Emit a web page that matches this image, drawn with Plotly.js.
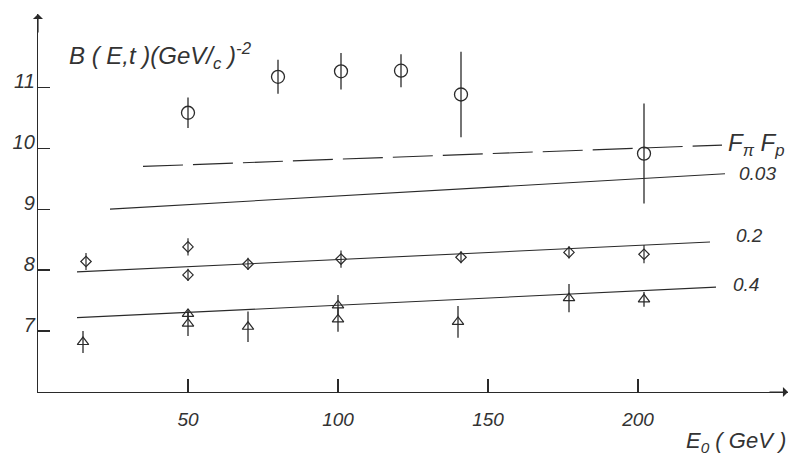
<!DOCTYPE html>
<html><head><meta charset="utf-8">
<script src="https://cdn.plot.ly/plotly-3.0.1.min.js"></script>
<style>html,body{margin:0;padding:0;background:#fff}</style>
</head><body><div id="chart" style="width:792px;height:468px"></div>
<script>
// open circles
const circlesX = [50, 80, 101, 121, 141, 202];
const circlesY = [10.58, 11.17, 11.26, 11.27, 10.88, 9.91];
const circlesErr = [0.25, 0.28, 0.30, 0.27, 0.70, 0.82];
// small diamonds
const diamondX = [16, 50, 50, 70, 101, 141, 177, 202];
const diamondY = [8.14, 8.38, 7.92, 8.10, 8.18, 8.21, 8.29, 8.26];
const diamondErr = [0.14, 0.14, 0.10, 0.10, 0.14, 0.10, 0.10, 0.15];
// arrow-like triangles
const triX = [15, 50, 50, 70, 100, 100, 140, 177, 202];
const triY = [6.82, 7.28, 7.12, 7.07, 7.42, 7.19, 7.15, 7.54, 7.52];
const triErr = [0.18, 0.08, 0.20, 0.25, 0.17, 0.20, 0.26, 0.23, 0.12];
// curves (Fπ/Fp labels)
const dashX = [35, 228], dashY = [9.70, 10.05];
const line003X = [24, 229], line003Y = [9.00, 9.58];
const line02X = [13, 224], line02Y = [7.97, 8.46];
const line04X = [13, 226], line04Y = [7.22, 7.72];
const xTicks = [50, 100, 150, 200];
const yTicks = [7, 8, 9, 10, 11];
const curveLabels = ['0.03', '0.2', '0.4'];

const ink = '#2a2a2a';
const fnt = {family: 'Liberation Sans', style: 'italic', color: '#333'};
const lineStyle = {color: ink, width: 1.1};

const traces = [
  {x: dashX, y: dashY, mode: 'lines', line: {color: ink, width: 1.1, dash: '40px,10px'}},
  {x: line003X, y: line003Y, mode: 'lines', line: lineStyle},
  {x: line02X, y: line02Y, mode: 'lines', line: lineStyle},
  {x: line04X, y: line04Y, mode: 'lines', line: lineStyle},
  {x: circlesX, y: circlesY, mode: 'markers',
   marker: {symbol: 'circle-open', size: 13, color: ink, line: {width: 1.3, color: ink}},
   error_y: {type: 'data', array: circlesErr, visible: true, width: 0, thickness: 1.3, color: ink}},
  {x: diamondX, y: diamondY, mode: 'markers',
   marker: {symbol: 'diamond-open', size: 8, color: ink, line: {width: 1.2, color: ink}},
   error_y: {type: 'data', array: diamondErr, visible: true, width: 0, thickness: 1.2, color: ink}},
  {x: triX, y: triY, mode: 'markers',
   marker: {symbol: 'triangle-up-open', size: 10, color: ink, line: {width: 1.2, color: ink}},
   error_y: {type: 'data', array: triErr, visible: true, width: 0, thickness: 1.3, color: ink}}
];

const annotations = [
  {xref: 'paper', yref: 'paper', x: 0.038, y: 0.89, xanchor: 'left', yanchor: 'middle', showarrow: false,
   text: 'B ( E,t )(GeV/<sub>c</sub> )<sup>-2</sup>', font: Object.assign({size: 24}, fnt)},
  {xref: 'paper', yref: 'paper', x: 1.0, y: -0.09, xanchor: 'right', yanchor: 'top', showarrow: false,
   text: 'E<sub>0</sub> ( GeV )', font: Object.assign({size: 22}, fnt)},
  {xref: 'paper', yref: 'paper', x: 0.998, y: 0.655, xanchor: 'right', yanchor: 'middle', showarrow: false,
   text: 'F<sub>π</sub> F<sub>p</sub>', font: Object.assign({size: 24}, fnt)},
  {xref: 'x', yref: 'y', x: 233, y: line003Y[1], xanchor: 'left', yanchor: 'middle', showarrow: false,
   text: curveLabels[0], font: Object.assign({size: 19}, fnt)},
  {xref: 'x', yref: 'y', x: 232, y: line02Y[1] + 0.1, xanchor: 'left', yanchor: 'middle', showarrow: false,
   text: curveLabels[1], font: Object.assign({size: 19}, fnt)},
  {xref: 'x', yref: 'y', x: 231, y: line04Y[1] + 0.05, xanchor: 'left', yanchor: 'middle', showarrow: false,
   text: curveLabels[2], font: Object.assign({size: 19}, fnt)},
  // axis arrows
  {xref: 'paper', yref: 'paper', x: 0, y: 1, ax: 0, ay: 20, showarrow: true, arrowhead: 1, arrowsize: 1.4, arrowwidth: 1.2, arrowcolor: ink, text: ''},
  {xref: 'paper', yref: 'paper', x: 1, y: 0, ax: -20, ay: 0, showarrow: true, arrowhead: 1, arrowsize: 1.4, arrowwidth: 1.2, arrowcolor: ink, text: ''}
];

const layout = {
  width: 792, height: 468,
  margin: {l: 38, r: 4, t: 14, b: 76},
  paper_bgcolor: '#fff', plot_bgcolor: '#fff',
  showlegend: false,
  xaxis: {range: [0, 250], showgrid: false, zeroline: false, showline: true, linecolor: ink, linewidth: 1.2,
          tickvals: xTicks, ticktext: xTicks.map(String), ticks: 'inside', ticklen: 13, tickwidth: 1.2, tickcolor: ink,
          ticklabelstandoff: 10, tickfont: Object.assign({size: 19}, fnt)},
  yaxis: {range: [6, 12.2], showgrid: false, zeroline: false, showline: true, linecolor: ink, linewidth: 1.2,
          tickvals: yTicks, ticktext: yTicks.map(String), ticks: 'inside', ticklen: 12, tickwidth: 1.2, tickcolor: ink,
          ticklabelshift: -6, ticklabelstandoff: -2, tickfont: Object.assign({size: 20}, fnt)},
  annotations: annotations
};

Plotly.newPlot('chart', traces, layout, {displayModeBar: false, staticPlot: true});
</script></body></html>
